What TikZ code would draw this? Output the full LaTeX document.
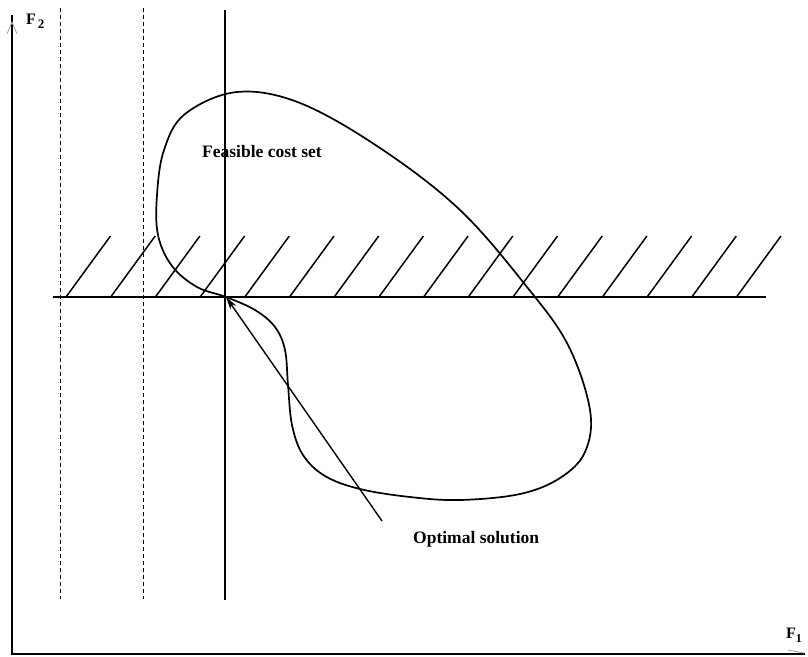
\documentclass[tikz,border=0pt]{standalone}
\usepackage{fontspec}
\setmainfont{Liberation Serif}
\usetikzlibrary{arrows.meta}
\begin{document}
\begin{tikzpicture}[x=1pt,y=-1pt,
  axisline/.style={line width=2pt},
  thinline/.style={line width=1.4pt},
  dashline/.style={line width=1pt, dash pattern=on 4pt off 3pt},
  hatchline/.style={line width=1.5pt},
  curveline/.style={line width=1.7pt},
  lbl/.style={font=\fontsize{17.5}{20}\selectfont\bfseries, inner sep=0pt, anchor=base west},
  axlbl/.style={font=\fontsize{16}{18}\selectfont\bfseries, inner sep=0pt, anchor=base west},
  faint/.style={draw=black!35, line width=0.9pt}]
\useasboundingbox (0,0) rectangle (808,656);
% axes
\coordinate (O) at (12,654);
\coordinate (Ytop) at (12,15);
\coordinate (Xend) at (805,654);
\draw[axisline] (Ytop) -- (O) -- (Xend);
\draw[faint] (7,34) -- (12,22) -- (17,34);
\draw[faint] (788,650) -- (804,653);
\node[axlbl] (F2) at (26,24) {F\hspace{2pt}\raisebox{-4pt}{\fontsize{13}{13}\selectfont 2}};
\node[axlbl] (F1) at (786,638) {F\raisebox{-4pt}{\fontsize{12}{12}\selectfont 1}};
% dashed verticals
\coordinate (D1t) at (60,8);  \coordinate (D1b) at (60,599);
\coordinate (D2t) at (143,8); \coordinate (D2b) at (143,599);
\draw[dashline] (D1t) -- (D1b);
\draw[dashline] (D2t) -- (D2b);
% solid vertical
\coordinate (Vt) at (225,10); \coordinate (Vb) at (225,600);
\draw[thinline] (Vt) -- (Vb);
% horizontal constraint line
\coordinate (Hl) at (53,297); \coordinate (Hr) at (766,297);
\draw[thinline] (Hl) -- (Hr);
% hatching
\foreach \i in {0,...,15}{
  \pgfmathsetmacro{\xb}{66+44.7*\i}
  \draw[hatchline] (\xb,297) -- (\xb+44.5,236);
}
% feasible cost set boundary
\coordinate (P) at (226,297);
\draw[curveline] plot[smooth cycle, tension=0.6] coordinates {
 (226,297) (197,287) (172,266) (158,235) (157,195) (164,150) (185,114)
 (237,92) (300,103) (380,148) (460,210) (527,287) (568,345) (590,410)
 (585,452) (560,478) (520,494) (460,500) (410,497) (360,489) (325,476)
 (303,455) (292,425) (288,385) (285,350) (275,327) (255,310)};
% labels
\node[lbl] (fcs) at (202,157) {Feasible cost set};
\node[lbl] (opt) at (413,543) {Optimal solution};
% arrow
\coordinate (Atail) at (382,521);
\draw[thinline, -{Stealth[length=13pt, width=7pt]}] (Atail) -- (P);
\end{tikzpicture}
\end{document}
